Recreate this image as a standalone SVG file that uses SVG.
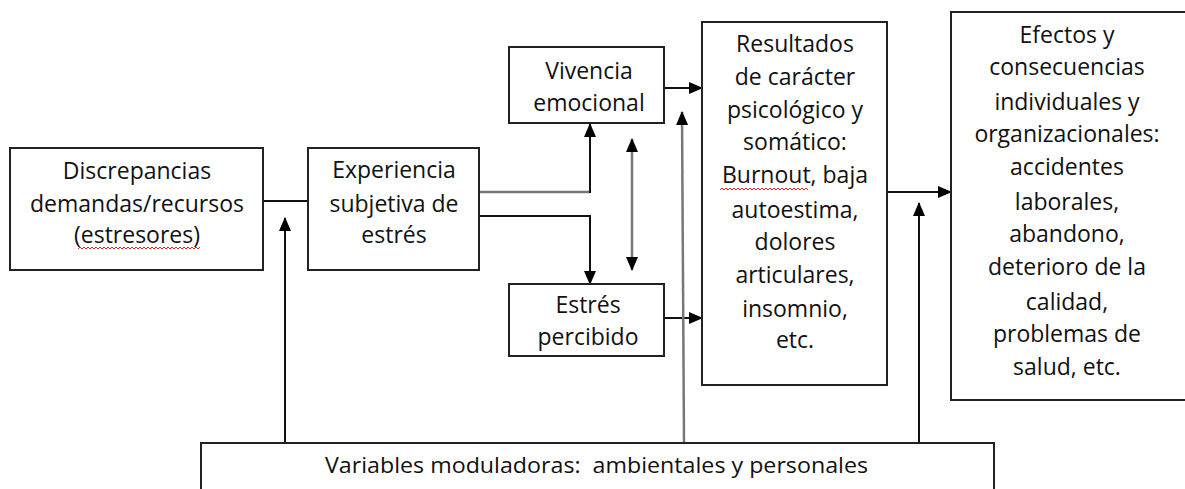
<svg xmlns="http://www.w3.org/2000/svg" width="1185" height="489" viewBox="0 0 1185 489">
<style>
.box{fill:#fff;stroke:#222;stroke-width:2}
.t{font-family:"Open Sans","Liberation Sans",sans-serif;font-size:23px;fill:#111;text-anchor:middle}
.tb{font-family:"Open Sans","Liberation Sans",sans-serif;font-size:21px;fill:#111}
.c{fill:none;stroke:#111;stroke-width:2}
.g{fill:none;stroke:#777;stroke-width:2.5}
.w{fill:none;stroke:#e02020;stroke-width:1}
</style>
<defs>
<marker id="ah" markerUnits="userSpaceOnUse" markerWidth="14" markerHeight="12" refX="13" refY="6" orient="auto-start-reverse">
<path d="M0,0 L14,6 L0,12 Z" fill="#000"/>
</marker>
</defs>
<rect width="1185" height="489" fill="#fff"/>
<g id="connectors">
<line class="c" x1="263" y1="201" x2="308" y2="201"/>
<line class="c" x1="285" y1="443" x2="285" y2="218" marker-end="url(#ah)"/>
<path class="g" d="M479,192 H590"/>
<path class="c" d="M590,193 V124" marker-end="url(#ah)"/>
<path class="c" d="M479,216 H590 V284" marker-end="url(#ah)"/>
<line class="g" x1="632" y1="139" x2="632" y2="270" marker-start="url(#ah)" marker-end="url(#ah)"/>
<line class="c" x1="664" y1="88" x2="702" y2="88" marker-end="url(#ah)"/>
<line class="c" x1="664" y1="318" x2="702" y2="318" marker-end="url(#ah)"/>
<line class="g" x1="684" y1="443" x2="682" y2="112" marker-end="url(#ah)"/>
<line class="c" x1="887" y1="192" x2="951" y2="192" marker-end="url(#ah)"/>
<line class="c" x1="919" y1="443" x2="919" y2="203" marker-end="url(#ah)"/>
</g>
<g id="discrepancias">
<rect class="box" x="10" y="148" width="253" height="122"/>
<text class="t" x="137" y="179">Discrepancias</text>
<text class="t" x="137" y="212">demandas/recursos</text>
<text class="t" x="137" y="243">(estresores)</text>
<path class="w" d="M78,249 l2,-2 l2,2 l2,-2 l2,2 l2,-2 l2,2 l2,-2 l2,2 l2,-2 l2,2 l2,-2 l2,2 l2,-2 l2,2 l2,-2 l2,2 l2,-2 l2,2 l2,-2 l2,2 l2,-2 l2,2 l2,-2 l2,2 l2,-2 l2,2 l2,-2 l2,2 l2,-2 l2,2 l2,-2 l2,2 l2,-2 l2,2 l2,-2 l2,2 l2,-2 l2,2 l2,-2 l2,2 l2,-2 l2,2 l2,-2 l2,2 l2,-2 l2,2 l2,-2 l2,2 l2,-2 l2,2 l2,-2 l2,2 l2,-2 l2,2 l2,-2 l2,2 l2,-2 l2,2 l2,-2 l2,2 l2,-2"/>
</g>
<g id="experiencia">
<rect class="box" x="308" y="148" width="171" height="122"/>
<text class="t" x="394" y="178">Experiencia</text>
<text class="t" x="394" y="212">subjetiva de</text>
<text class="t" x="394" y="243">estrés</text>
</g>
<g id="vivencia">
<rect class="box" x="509" y="47" width="155" height="76"/>
<text class="t" x="589" y="79">Vivencia</text>
<text class="t" x="589" y="111">emocional</text>
</g>
<g id="estres">
<rect class="box" x="509" y="284" width="155" height="72"/>
<text class="t" x="588" y="313">Estrés</text>
<text class="t" x="588" y="345">percibido</text>
</g>
<g id="resultados">
<rect class="box" x="702" y="22" width="185" height="363"/>
<text class="t" x="795" y="52">Resultados</text>
<text class="t" x="795" y="85">de carácter</text>
<text class="t" x="795" y="118">psicológico y</text>
<text class="t" x="795" y="150">somático:</text>
<text class="t" x="795" y="183">Burnout, baja</text>
<path class="w" d="M720,190 l2,-2 l2,2 l2,-2 l2,2 l2,-2 l2,2 l2,-2 l2,2 l2,-2 l2,2 l2,-2 l2,2 l2,-2 l2,2 l2,-2 l2,2 l2,-2 l2,2 l2,-2 l2,2 l2,-2 l2,2 l2,-2 l2,2 l2,-2 l2,2 l2,-2 l2,2 l2,-2 l2,2 l2,-2 l2,2 l2,-2 l2,2 l2,-2 l2,2 l2,-2 l2,2 l2,-2 l2,2 l2,-2 l2,2 l2,-2 l2,2"/>
<text class="t" x="795" y="218">autoestima,</text>
<text class="t" x="795" y="250">dolores</text>
<text class="t" x="795" y="283">articulares,</text>
<text class="t" x="795" y="317">insomnio,</text>
<text class="t" x="795" y="348">etc.</text>
</g>
<g id="efectos">
<rect class="box" x="951" y="12" width="245" height="388"/>
<text class="t" x="1067" y="43">Efectos y</text>
<text class="t" x="1067" y="75">consecuencias</text>
<text class="t" x="1067" y="110">individuales y</text>
<text class="t" x="1067" y="142">organizacionales:</text>
<text class="t" x="1067" y="175">accidentes</text>
<text class="t" x="1067" y="210">laborales,</text>
<text class="t" x="1067" y="242">abandono,</text>
<text class="t" x="1067" y="275">deterioro de la</text>
<text class="t" x="1067" y="310">calidad,</text>
<text class="t" x="1067" y="342">problemas de</text>
<text class="t" x="1067" y="375">salud, etc.</text>
</g>
<g id="variables">
<rect class="box" x="201" y="443" width="793" height="60"/>
<text class="tb" x="325" y="473" textLength="543" lengthAdjust="spacingAndGlyphs" xml:space="preserve">Variables moduladoras:  ambientales y personales</text>
</g>
</svg>
